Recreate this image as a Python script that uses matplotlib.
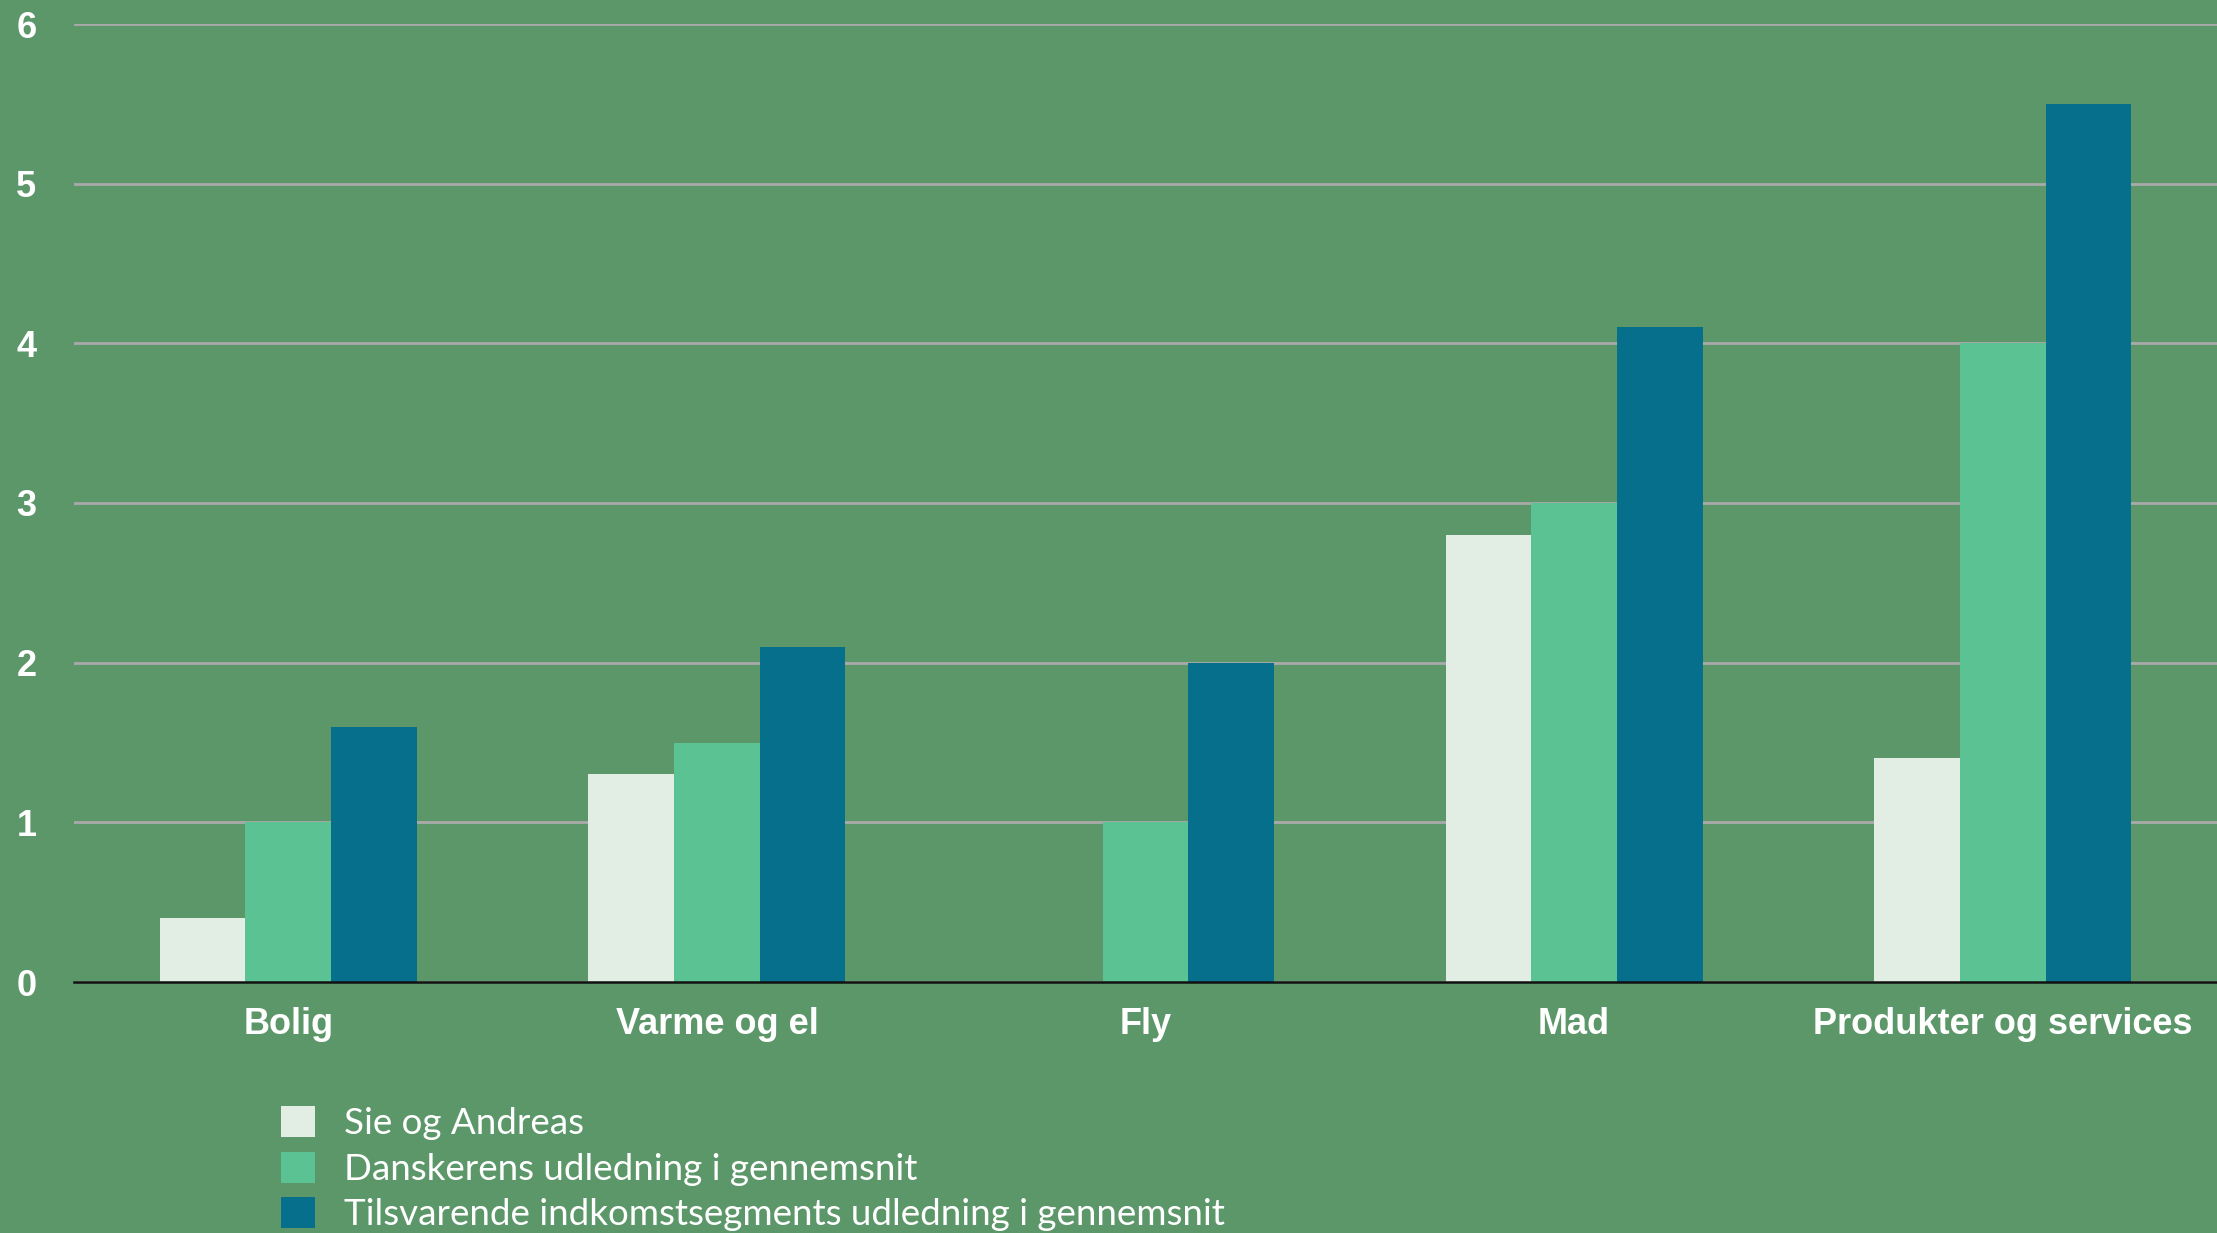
import numpy as np
import matplotlib.pyplot as plt
from matplotlib.patches import Patch

categories = ['Bolig', 'Varme og el', 'Fly', 'Mad', 'Produkter og services']
sie_andreas = [0.4, 1.3, 0.0, 2.8, 1.4]
danskeren = [1.0, 1.5, 1.0, 3.0, 4.0]
indkomst = [1.6, 2.1, 2.0, 4.1, 5.5]
series_labels = ['Sie og Andreas',
                 'Danskerens udledning i gennemsnit',
                 'Tilsvarende indkomstsegments udledning i gennemsnit']
colors = ['#E2EDE4', '#5BC294', '#06708C']
bg = '#5C976A'

fig = plt.figure(figsize=(22.17, 12.33), dpi=100, facecolor=bg)
ax = fig.add_axes([74 / 2217, 1 - 982 / 1233, 1 - 74 / 2217, (982 - 24) / 1233])
ax.set_facecolor(bg)

x = np.arange(len(categories))
w = 0.2
for i, (vals, c) in enumerate(zip([sie_andreas, danskeren, indkomst], colors)):
    ax.bar(x + (i - 1) * w, vals, width=w, color=c, zorder=3, linewidth=0)

ax.set_xlim(-0.5, len(categories) - 0.5)
ax.set_ylim(0, 6)
ax.set_yticks(range(0, 7))
ax.grid(axis='y', color='#AAAAAA', linewidth=2, zorder=1)
ax.set_axisbelow(True)

for s in ['top', 'right', 'left']:
    ax.spines[s].set_visible(False)
ax.spines['bottom'].set_color('#111111')
ax.spines['bottom'].set_linewidth(1.8)
ax.spines['bottom'].set_zorder(4)

ax.set_xticks(x)
ax.set_xticklabels(categories)
ax.tick_params(axis='both', length=0, colors='white', labelsize=26)
ax.tick_params(axis='x', pad=18)
ax.tick_params(axis='y', pad=27)
for lbl in ax.get_xticklabels() + ax.get_yticklabels():
    lbl.set_fontfamily('Liberation Sans')
    lbl.set_fontweight('bold')

handles = [Patch(facecolor=c, edgecolor='none') for c in colors]
leg = fig.legend(handles, series_labels, loc='upper left',
                 bbox_to_anchor=(281 / 2217, 1 - 1106 / 1233),
                 frameon=False, handlelength=0.92, handleheight=0.92,
                 handletextpad=0.8, labelspacing=0.31, borderpad=0, borderaxespad=0,
                 prop={'family': 'Lato', 'size': 26.5})
for t in leg.get_texts():
    t.set_color('white')

fig.savefig('out.png', dpi=100, facecolor=bg)
